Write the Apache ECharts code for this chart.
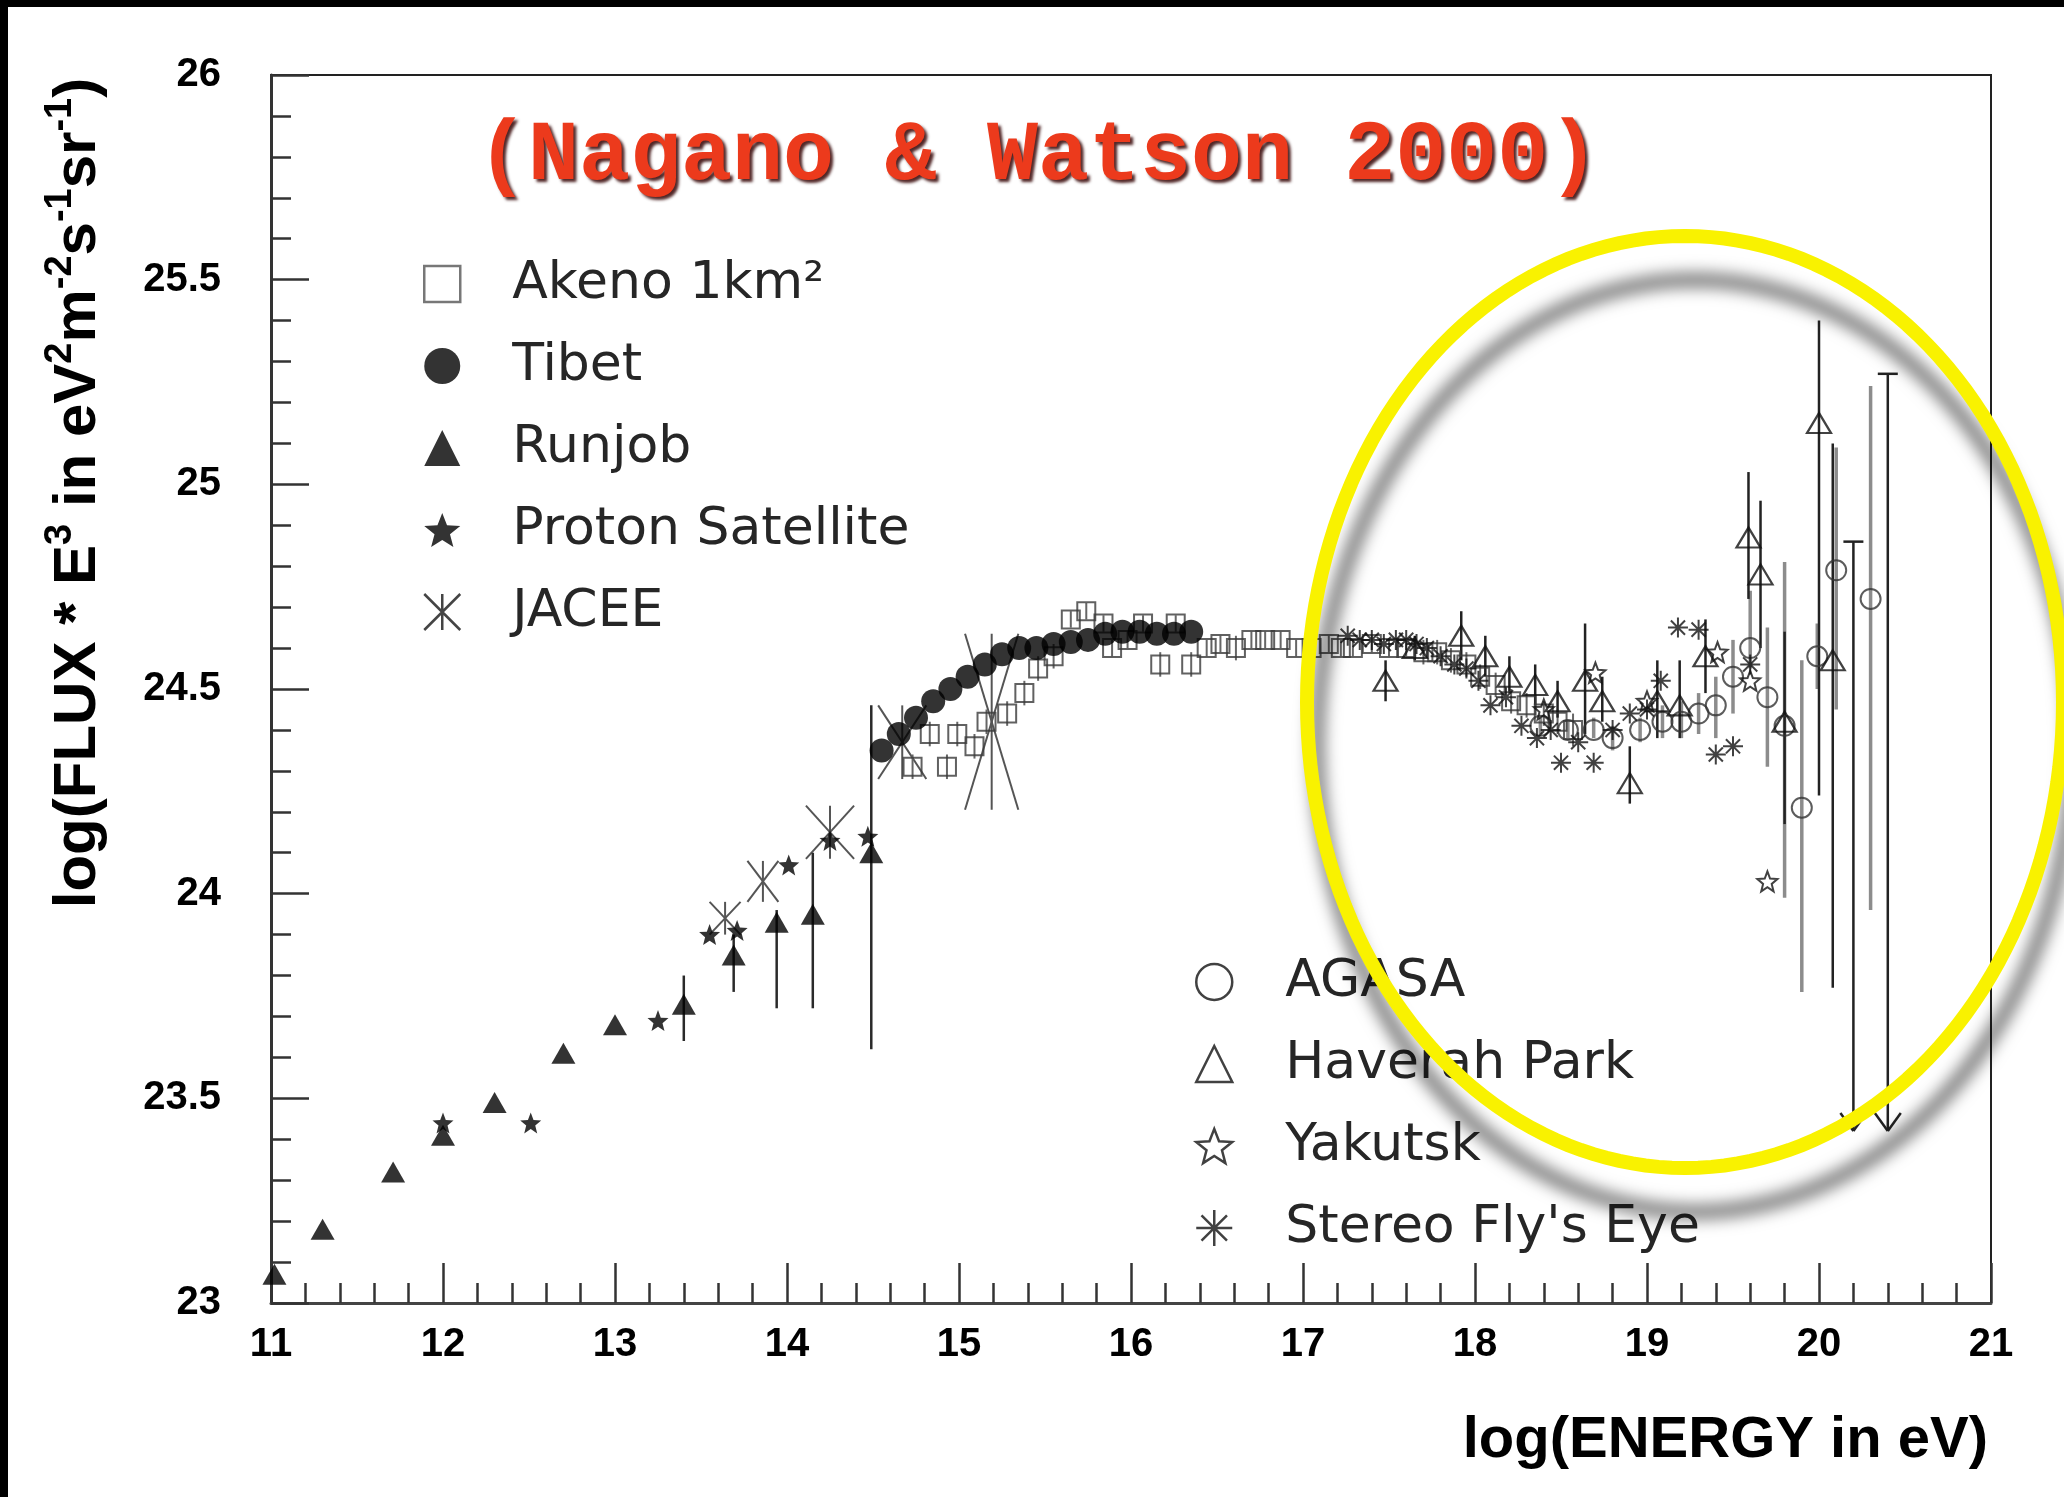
<!DOCTYPE html>
<html>
<head>
<meta charset="utf-8">
<script src="https://cdn.jsdelivr.net/npm/echarts@6/dist/echarts.min.js"></script>
<style>
  html, body { margin: 0; padding: 0; background: #fff; }
  #chart { width: 2064px; height: 1497px; }
</style>
</head>
<body>
<div id="chart"></div>
<script>
// ---------------- cosmic-ray spectrum data: log10(E/eV) vs log10(flux * E^3) ----------------

// Runjob (filled triangles)
const runjobE    = [11.02, 11.30, 11.71, 12.00, 12.30, 12.70, 13.00, 13.40, 13.69, 13.94, 14.15, 14.49];
const runjobFlux = [23.07, 23.18, 23.32, 23.41, 23.49, 23.61, 23.68, 23.73, 23.85, 23.93, 23.95, 24.10];
const runjobLo   = [null, null, null, null, null, null, null, 23.64, 23.76, 23.72, 23.72, 23.62];
const runjobHi   = [null, null, null, null, null, null, null, 23.80, 23.90, 23.96, 24.10, 24.46];

// Proton Satellite (filled stars)
const protonE    = [12.00, 12.51, 13.25, 13.55, 13.71, 14.01, 14.25, 14.47];
const protonFlux = [23.44, 23.44, 23.69, 23.90, 23.91, 24.07, 24.13, 24.14];

// JACEE (asterisks whose arms span the error box)
const jaceeE     = [13.64, 13.86, 14.25, 14.67, 15.19];
const jaceeFlux  = [23.94, 24.03, 24.15, 24.37, 24.42];
const jaceeDE    = [0.09, 0.09, 0.14, 0.14, 0.155];
const jaceeDF    = [0.04, 0.05, 0.065, 0.09, 0.215];

// Tibet (filled circles)
const tibetE    = [14.55, 14.65, 14.75, 14.85, 14.95, 15.05, 15.15, 15.25, 15.35, 15.45,
                   15.55, 15.65, 15.75, 15.85, 15.95, 16.05, 16.15, 16.25, 16.35];
const tibetFlux = [24.35, 24.39, 24.43, 24.47, 24.50, 24.53, 24.56, 24.585, 24.60, 24.60,
                   24.61, 24.615, 24.62, 24.635, 24.64, 24.64, 24.635, 24.635, 24.64];

// Akeno 1 km^2 (open squares)
const akenoE    = [14.73, 14.83, 14.93, 14.99, 15.09, 15.16, 15.28, 15.38, 15.46, 15.55,
                   15.65, 15.74, 15.84, 15.89, 15.98, 16.07, 16.17, 16.26, 16.35, 16.44,
                   16.52, 16.61, 16.70, 16.78, 16.87, 16.96, 17.05, 17.15, 17.22, 17.29,
                   17.40, 17.50, 17.60, 17.70, 17.78, 17.86, 17.95, 18.03, 18.12, 18.21,
                   18.30, 18.40, 18.48, 18.57];
const akenoFlux = [24.31, 24.39, 24.31, 24.39, 24.36, 24.42, 24.44, 24.49, 24.55, 24.58,
                   24.67, 24.69, 24.66, 24.60, 24.62, 24.66, 24.56, 24.66, 24.56, 24.60,
                   24.61, 24.60, 24.62, 24.62, 24.62, 24.60, 24.60, 24.61, 24.60, 24.60,
                   24.61, 24.60, 24.60, 24.59, 24.59, 24.57, 24.56, 24.53, 24.51, 24.47,
                   24.46, 24.44, 24.42, 24.40];
const akenoErr  = [0.03, 0.03, 0.03, 0.03, 0.03, 0.03, 0.03, 0.03, 0.03, 0.03,
                   0.02, 0.02, 0.02, 0.02, 0.02, 0.02, 0.03, 0.02, 0.03, 0.02,
                   0.02, 0.03, 0.02, 0.02, 0.02, 0.02, 0.02, 0.02, 0.02, 0.02,
                   0.02, 0.02, 0.02, 0.03, 0.03, 0.03, 0.03, 0.03, 0.03, 0.03,
                   0.03, 0.03, 0.03, 0.04];

// AGASA (open circles)
const agasaE    = [18.38, 18.54, 18.69, 18.80, 18.96, 19.09, 19.20, 19.30, 19.40, 19.50,
                   19.60, 19.70, 19.80, 19.90, 19.99, 20.10, 20.30];
const agasaFlux = [24.41, 24.40, 24.40, 24.38, 24.40, 24.42, 24.42, 24.44, 24.46, 24.53,
                   24.60, 24.48, 24.41, 24.21, 24.58, 24.79, 24.72];
const agasaLo   = [24.39, 24.38, 24.38, 24.35, 24.37, 24.38, 24.38, 24.39, 24.38, 24.44,
                   24.55, 24.31, 23.99, 23.76, 24.50, 24.45, 23.96];
const agasaHi   = [24.43, 24.42, 24.43, 24.41, 24.43, 24.46, 24.47, 24.49, 24.53, 24.62,
                   24.74, 24.65, 24.81, 24.57, 24.66, 25.09, 25.24];

// Haverah Park (open triangles)
const haverahE    = [17.48, 17.65, 17.92, 18.06, 18.20, 18.35, 18.48, 18.64, 18.74, 18.90,
                     19.06, 19.19, 19.34, 19.59, 19.66, 19.80, 20.00, 20.08];
const haverahFlux = [24.52, 24.60, 24.63, 24.58, 24.53, 24.51, 24.47, 24.52, 24.47, 24.27,
                     24.47, 24.46, 24.58, 24.87, 24.78, 24.42, 25.15, 24.57];
const haverahLo   = [24.47, 24.57, 24.57, 24.53, 24.49, 24.46, 24.43, 24.39, 24.42, 24.22,
                     24.38, 24.38, 24.49, 24.72, 24.60, 24.17, 24.24, 23.77];
const haverahHi   = [24.57, 24.63, 24.69, 24.63, 24.58, 24.56, 24.52, 24.66, 24.53, 24.36,
                     24.57, 24.57, 24.67, 25.03, 24.96, 24.64, 25.40, 25.10];

// upper limits at the highest energies: top of bar, arrow tip
const limitE   = [20.20, 20.40];
const limitTop = [24.86, 25.27];
const limitTip = [23.42, 23.42];

// Yakutsk (open stars)
const yakutskE    = [18.40, 18.70, 19.00, 19.41, 19.60, 19.70];
const yakutskFlux = [24.45, 24.54, 24.47, 24.59, 24.52, 24.03];

// Stereo Fly's Eye (asterisks)
const flysEyeE    = [17.26, 17.33, 17.40, 17.47, 17.54, 17.60, 17.66, 17.72, 17.80, 17.88,
                     17.95, 18.02, 18.09, 18.18, 18.27, 18.36, 18.44, 18.50, 18.60, 18.69,
                     18.80, 18.90, 19.00, 19.08, 19.18, 19.30, 19.40, 19.50, 19.60];
const flysEyeFlux = [24.63, 24.62, 24.62, 24.61, 24.62, 24.62, 24.61, 24.60, 24.58, 24.56,
                     24.55, 24.52, 24.46, 24.48, 24.41, 24.38, 24.40, 24.32, 24.37, 24.32,
                     24.40, 24.44, 24.45, 24.52, 24.65, 24.645, 24.34, 24.36, 24.56];

// ---------------- helpers ----------------
const pairs = (xs, ys) => xs.map((x, i) => [x, ys[i]]);
const ranges = (xs, lo, hi) => xs.map((x, i) => [x, lo[i], hi[i]]).filter(d => d[1] != null);
const spread = (xs, ys, e) => xs.map((x, i) => [x, ys[i] - e[i], ys[i] + e[i]]);

function starPath() {
  let d = '';
  for (let i = 0; i < 10; i++) {
    const r = i % 2 === 0 ? 10 : 4.3;
    const a = -Math.PI / 2 + i * Math.PI / 5;
    d += (i ? 'L' : 'M') + (r * Math.cos(a)).toFixed(3) + ',' + (r * Math.sin(a)).toFixed(3);
  }
  return 'path://' + d + 'Z';
}
const STAR = starPath();
const ASTER8 = 'path://M0,-10L0,10M-10,0L10,0M-7.07,-7.07L7.07,7.07M-7.07,7.07L7.07,-7.07';
const ASTER6 = 'path://M0,-10L0,10M-10,-10L10,10M-10,10L10,-10';

function seg(api, p, q, stroke, width) {
  const a = api.coord(p), b = api.coord(q);
  return { type: 'line', shape: { x1: a[0], y1: a[1], x2: b[0], y2: b[1] },
           style: { stroke: stroke, lineWidth: width } };
}

function errorBars(data, stroke, width) {
  return {
    type: 'custom', data: data, encode: { x: 0, y: [1, 2] }, z: 2, silent: true,
    renderItem: (params, api) => seg(api, [api.value(0), api.value(1)], [api.value(0), api.value(2)], stroke, width)
  };
}

const open = (c, w) => ({ color: 'rgba(0,0,0,0)', borderColor: c, borderWidth: w });

// ---------------- chart ----------------
const chart = echarts.init(document.getElementById('chart'), null, { renderer: 'canvas' });

const tickFont = { fontFamily: '"Liberation Sans", Arial, sans-serif', fontWeight: 'bold', fontSize: 40, color: '#000' };
const legendText = { fontFamily: '"DejaVu Sans", sans-serif', fontSize: 52, color: '#262626' };

const cx = 1685, cy = 702, rx = 378, ry = 466;
const ellipsePts = [];
for (let i = 0; i < 180; i++) {
  const t = i / 180 * Math.PI * 2;
  ellipsePts.push([cx + rx * Math.cos(t), cy + ry * Math.sin(t)]);
}

const yTitle = '{m|log(FLUX * E}{s|3}{m| in eV}{s|2}{m|m}{s|-2}{m|s}{s|-1}{m|sr}{s|-1}{m|)}';

chart.setOption({
  backgroundColor: '#fff',
  animation: false,
  grid: { left: 271, right: 73, top: 75, bottom: 194, show: true, borderColor: '#222', borderWidth: 2, backgroundColor: 'transparent' },
  xAxis: {
    type: 'value', min: 11, max: 21, interval: 1,
    axisLine: { show: true, onZero: false, lineStyle: { color: '#444', width: 3 } },
    axisTick: { show: true, inside: true, length: 40, lineStyle: { color: '#333', width: 2.5 } },
    minorTick: { show: true, splitNumber: 5, length: 20, lineStyle: { color: '#333', width: 2.5 } },
    splitLine: { show: false },
    axisLabel: Object.assign({ margin: 22 }, tickFont)
  },
  yAxis: {
    type: 'value', min: 23, max: 26, interval: 0.5,
    axisLine: { show: true, onZero: false, lineStyle: { color: '#333', width: 3 } },
    axisTick: { show: true, inside: true, length: 38, lineStyle: { color: '#333', width: 2.5 } },
    minorTick: { show: true, splitNumber: 5, length: 20, lineStyle: { color: '#333', width: 2.5 } },
    splitLine: { show: false },
    axisLabel: Object.assign({ margin: 50 }, tickFont)
  },
  legend: [
    {
      orient: 'vertical', left: 418, top: 253, itemWidth: 36, itemHeight: 36, itemGap: 30,
      selectedMode: false, symbolKeepAspect: true,
      textStyle: Object.assign({ rich: { g: { width: 47 }, t: legendText } }, legendText),
      formatter: n => '{g|}{t|' + n + '}',
      data: [
        { name: 'Akeno 1km²', icon: 'rect', itemStyle: open('#555', 2.5) },
        { name: 'Tibet', icon: 'circle', itemStyle: { color: '#000', borderWidth: 0 } },
        { name: 'Runjob', icon: 'triangle', itemStyle: { color: '#000', borderWidth: 0 } },
        { name: 'Proton Satellite', icon: STAR, itemStyle: { color: '#000', borderWidth: 0 } },
        { name: 'JACEE', icon: ASTER6, itemStyle: open('#444', 2.5) }
      ]
    },
    {
      orient: 'vertical', left: 1190, top: 951, itemWidth: 36, itemHeight: 36, itemGap: 30,
      selectedMode: false, symbolKeepAspect: true,
      textStyle: Object.assign({ rich: { g: { width: 48 }, t: legendText } }, legendText),
      formatter: n => '{g|}{t|' + n + '}',
      data: [
        { name: 'AGASA', icon: 'circle', itemStyle: open('#111', 2.5) },
        { name: 'Haverah Park', icon: 'triangle', itemStyle: open('#111', 2.5) },
        { name: 'Yakutsk', icon: STAR, itemStyle: open('#111', 2.5) },
        { name: "Stereo Fly's Eye", icon: ASTER8, itemStyle: open('#111', 2.5) }
      ]
    }
  ],
  series: [
    // error bars
    errorBars(ranges(runjobE, runjobLo, runjobHi), '#2a2a2a', 2.5),
    errorBars(spread(akenoE, akenoFlux, akenoErr), '#666', 2),
    errorBars(ranges(agasaE, agasaLo, agasaHi), '#8c8c8c', 3.5),
    errorBars(ranges(haverahE, haverahLo, haverahHi), '#222', 2.5),
    {
      type: 'custom', z: 2, silent: true,
      data: limitE.map((x, i) => [x, limitTop[i], limitTip[i]]),
      encode: { x: 0, y: [1, 2] },
      renderItem: (params, api) => {
        const x = api.value(0);
        const top = api.coord([x, api.value(1)]);
        const tip = api.coord([x, api.value(2)]);
        const line = (x1, y1, x2, y2) => ({ type: 'line', shape: { x1, y1, x2, y2 }, style: { stroke: '#222', lineWidth: 2.5 } });
        return { type: 'group', children: [
          line(top[0], top[1], tip[0], tip[1]),
          line(top[0] - 10, top[1], top[0] + 10, top[1]),
          line(tip[0] - 13, tip[1] - 18, tip[0], tip[1]),
          line(tip[0] + 13, tip[1] - 18, tip[0], tip[1])
        ] };
      }
    },
    {
      name: 'JACEE', type: 'custom', z: 1,
      data: jaceeE.map((x, i) => [x, jaceeFlux[i], jaceeDE[i], jaceeDF[i]]),
      encode: { x: 0, y: 1 },
      renderItem: (params, api) => {
        const x = api.value(0), y = api.value(1), dx = api.value(2), dy = api.value(3);
        return { type: 'group', children: [
          seg(api, [x - dx, y + dy], [x + dx, y - dy], '#555', 2),
          seg(api, [x - dx, y - dy], [x + dx, y + dy], '#555', 2),
          seg(api, [x, y - dy], [x, y + dy], '#555', 2)
        ] };
      }
    },
    // markers
    { name: 'Akeno 1km²', type: 'scatter', z: 3, symbol: 'rect', symbolSize: 18,
      itemStyle: open('#3a3a3a', 2), data: pairs(akenoE, akenoFlux) },
    { name: 'Tibet', type: 'scatter', z: 4, symbol: 'circle', symbolSize: 24,
      itemStyle: { color: '#000' }, data: pairs(tibetE, tibetFlux) },
    { name: 'Runjob', type: 'scatter', z: 4, symbol: 'triangle', symbolSize: [24, 21],
      itemStyle: { color: '#000' }, data: pairs(runjobE, runjobFlux) },
    { name: 'Proton Satellite', type: 'scatter', z: 4, symbol: STAR, symbolSize: 21,
      itemStyle: { color: '#000' }, data: pairs(protonE, protonFlux) },
    { name: 'AGASA', type: 'scatter', z: 3, symbol: 'circle', symbolSize: 20,
      itemStyle: open('#333', 2), data: pairs(agasaE, agasaFlux) },
    { name: 'Haverah Park', type: 'scatter', z: 3, symbol: 'triangle', symbolSize: [24, 20],
      itemStyle: open('#111', 2.2), data: pairs(haverahE, haverahFlux) },
    { name: 'Yakutsk', type: 'scatter', z: 3, symbol: STAR, symbolSize: 20,
      itemStyle: open('#111', 2), data: pairs(yakutskE, yakutskFlux) },
    { name: "Stereo Fly's Eye", type: 'scatter', z: 3, symbol: ASTER8, symbolSize: 20,
      itemStyle: open('#111', 2), data: pairs(flysEyeE, flysEyeFlux) }
  ],
  graphic: [
    {
      type: 'text', x: 477, y: 158, z: 50,
      style: {
        text: '(Nagano & Watson 2000)',
        font: 'bold 85px "Courier New", "Liberation Mono", monospace',
        fill: '#ec3a1c', textVerticalAlign: 'middle', verticalAlign: 'middle',
        textShadowColor: 'rgba(50,0,0,0.85)', textShadowBlur: 3, textShadowOffsetX: 3, textShadowOffsetY: 3,
        shadowColor: 'rgba(50,0,0,0.85)', shadowBlur: 3, shadowOffsetX: 3, shadowOffsetY: 3
      }
    },
    {
      type: 'text', x: 78, y: 493, rotation: Math.PI / 2, z: 50,
      style: {
        text: yTitle,
        textAlign: 'center', align: 'center', textVerticalAlign: 'middle', verticalAlign: 'middle',
        rich: {
          m: { fontFamily: '"Liberation Sans", Arial, sans-serif', fontWeight: 'bold', fontSize: 60, lineHeight: 72, fill: '#000', color: '#000' },
          s: { fontFamily: '"Liberation Sans", Arial, sans-serif', fontWeight: 'bold', fontSize: 38, lineHeight: 22, verticalAlign: 'top', fill: '#000', color: '#000' }
        }
      }
    },
    {
      type: 'text', x: 1988, y: 1441, z: 50,
      style: {
        text: 'log(ENERGY in eV)',
        font: 'bold 58px "Liberation Sans", Arial, sans-serif',
        fill: '#000', textAlign: 'right', align: 'right', textVerticalAlign: 'middle', verticalAlign: 'middle'
      }
    },
    {
      type: 'polygon', z: 100, silent: true,
      shape: { points: ellipsePts },
      style: {
        fill: 'none', stroke: '#f9f200', lineWidth: 14,
        shadowColor: 'rgba(0,0,0,0.55)', shadowBlur: 16, shadowOffsetX: 10, shadowOffsetY: 44
      }
    },
    { type: 'rect', z: 200, silent: true, shape: { x: 0, y: 0, width: 2064, height: 7 }, style: { fill: '#000' } },
    { type: 'rect', z: 200, silent: true, shape: { x: 0, y: 0, width: 8, height: 1497 }, style: { fill: '#000' } }
  ]
});
</script>
</body>
</html>
